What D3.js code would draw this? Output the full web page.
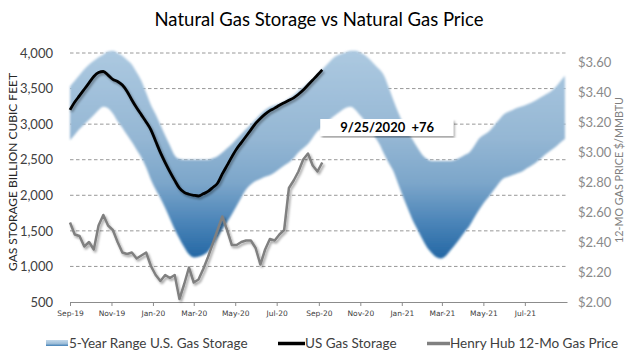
<!DOCTYPE html>
<html><head><meta charset="utf-8">
<script src="https://cdn.jsdelivr.net/npm/d3@7"></script>
<style>
html,body{margin:0;padding:0;background:#fff;}
svg{display:block;}
</style></head>
<body>
<svg id="chart" width="636" height="357"></svg>
<script>
// ---------- DATA ----------
const startWeek = new Date(2019, 8, 20); // first weekly observation
const tickLabels = ["Sep-19","Nov-19","Jan-20","Mar-20","May-20","Jul-20","Sep-20","Nov-20","Jan-21","Mar-21","May-21","Jul-21"];
const storageTicks = [500,1000,1500,2000,2500,3000,3500,4000];
const priceTicks = [2.0,2.2,2.4,2.6,2.8,3.0,3.2,3.4,3.6];

// 5-year range (Bcf), weekly
const rangeUpper = [3530,3610,3690,3770,3840,3890,3940,3980,4020,4030,4000,3960,3900,3840,3730,3610,3440,3270,3140,2990,2840,2700,2560,2510,2500,2500,2500,2500,2500,2500,2520,2550,2600,2660,2720,2790,2860,2930,3000,3070,3140,3200,3240,3265,3290,3320,3360,3410,3470,3520,3580,3630,3700,3770,3840,3910,3960,3990,4010,4030,4030,4005,3970,3910,3840,3770,3680,3510,3330,3160,3010,2890,2780,2670,2570,2510,2483,2483,2483,2483,2483,2500,2530,2570,2610,2700,2800,2850,2895,2970,3050,3129,3170,3200,3230,3250,3275,3305,3340,3380,3420,3460,3520,3600,3680];
const rangeLower = [2775,2850,2930,3000,3060,3130,3200,3246,3225,3150,3040,2950,2846,2750,2640,2530,2390,2220,2080,1960,1820,1670,1520,1390,1270,1170,1127,1135,1160,1210,1300,1410,1520,1620,1730,1850,1970,2080,2150,2200,2230,2260,2282,2320,2370,2420,2460,2520,2600,2660,2720,2810,2900,2950,3020,3090,3140,3190,3230,3246,3200,3120,3040,2950,2830,2720,2580,2450,2330,2150,1975,1810,1650,1520,1390,1270,1190,1130,1113,1150,1230,1310,1400,1490,1575,1690,1800,1900,1980,2070,2160,2234,2260,2285,2310,2335,2380,2420,2465,2520,2580,2630,2680,2740,2790];
// US gas storage (Bcf), weekly to 9/25/2020
const usStorage = [3200,3310,3400,3490,3580,3670,3725,3740,3690,3630,3600,3550,3460,3340,3230,3130,3030,2920,2760,2600,2460,2330,2210,2100,2040,2015,2000,1990,2020,2055,2110,2170,2300,2420,2540,2650,2740,2830,2920,3010,3080,3140,3190,3225,3265,3300,3335,3370,3420,3480,3550,3620,3690,3764];
// Henry Hub 12-month strip ($/MMBtu), weekly
const hhPrice = [2.53,2.45,2.44,2.37,2.40,2.35,2.51,2.58,2.51,2.48,2.40,2.33,2.32,2.33,2.29,2.31,2.33,2.24,2.18,2.14,2.18,2.16,2.18,2.02,2.12,2.23,2.13,2.15,2.22,2.30,2.39,2.48,2.57,2.48,2.38,2.38,2.40,2.41,2.41,2.36,2.25,2.35,2.42,2.41,2.45,2.48,2.76,2.81,2.87,2.95,2.99,2.91,2.87,2.93];

const annotationText = "9/25/2020  +76";
const annotationIndex = 53;

// ---------- CHART ----------
const svg = d3.select("#chart");
const plotL = 70, plotR = 567, plotT = 53, plotB = 302;

const weekDate = i => d3.timeDay.offset(startWeek, 7 * i);
const x = d3.scaleTime().domain([startWeek, d3.timeMonth.offset(startWeek, 24)]).range([plotL, plotR]);
const yS = d3.scaleLinear().domain([500, 4000]).range([plotB, plotT]);
const yP = d3.scaleLinear().domain([2.0, 3.6]).range([plotB, 62]);

const defs = svg.append("defs");
const grad = defs.append("linearGradient").attr("id","bandGrad")
  .attr("gradientUnits","userSpaceOnUse").attr("x1",0).attr("x2",0).attr("y1",55).attr("y2",262);
[[0,"#abc8e0"],[0.4,"#95b7d4"],[0.62,"#7ca6ca"],[0.8,"#4d86b9"],[1,"#1f64a2"]].forEach(s=>
  grad.append("stop").attr("offset",s[0]).attr("stop-color",s[1]));
const lgrad = defs.append("linearGradient").attr("id","legGrad").attr("x1",0).attr("x2",0).attr("y1",0).attr("y2",1);
[[0,"#c3d8ea"],[0.6,"#9dbdd8"],[1,"#3f7fb6"]].forEach(s=>lgrad.append("stop").attr("offset",s[0]).attr("stop-color",s[1]));
defs.append("filter").attr("id","soft").attr("x","-5%").attr("y","-5%").attr("width","110%").attr("height","110%")
  .append("feGaussianBlur").attr("stdDeviation",1.3);
const sh = defs.append("filter").attr("id","shadow").attr("x","-5%").attr("y","-5%").attr("width","115%").attr("height","115%");
sh.append("feDropShadow").attr("dx",1.5).attr("dy",2).attr("stdDeviation",1.2).attr("flood-color","#000").attr("flood-opacity",0.35);

// title
svg.append("text").attr("x",319).attr("y",26).attr("text-anchor","middle")
  .attr("font-family","Lato, 'Open Sans', sans-serif").attr("font-size",18.5).attr("fill","#000")
  .text("Natural Gas Storage vs Natural Gas Price");

// gridlines
svg.append("g").selectAll("line").data(storageTicks.filter(d=>d>500)).join("line")
  .attr("x1",plotL).attr("x2",plotR).attr("y1",d=>yS(d)).attr("y2",d=>yS(d))
  .attr("stroke","#8c8c8c").attr("stroke-width",0.9).attr("stroke-dasharray","3.5,2.5");

// band
const area = d3.area().x((d,i)=>x(weekDate(i))).y0((d,i)=>yS(rangeLower[i])).y1(d=>yS(d)).curve(d3.curveMonotoneX);
svg.append("path").datum(rangeUpper).attr("d",area).attr("fill","url(#bandGrad)").attr("filter","url(#soft)");

// x axis
const tickDates = tickLabels.map((t,i)=>d3.timeMonth.offset(startWeek, 2*i));
const xAxis = d3.axisBottom(x).tickValues(tickDates).tickFormat((d,i)=>tickLabels[i]).tickSize(4).tickSizeOuter(0);
const gx = svg.append("g").attr("transform",`translate(0,${plotB})`).call(xAxis);
gx.select(".domain").attr("stroke","#8c8c8c").attr("stroke-width",1);
gx.selectAll(".tick line").attr("stroke","#8c8c8c");
gx.selectAll(".tick text").attr("font-family","'DejaVu Sans', Verdana, sans-serif").attr("font-size",7.5).attr("fill","#404040").attr("dy","0.9em");

// left axis
const yAxisL = d3.axisLeft(yS).tickValues(storageTicks).tickFormat(d3.format(",")).tickSize(0);
const gl = svg.append("g").attr("transform",`translate(${plotL-14},0)`).call(yAxisL);
gl.select(".domain").remove();
gl.selectAll(".tick text").attr("font-family","Lato, 'Open Sans', sans-serif").attr("font-size",13).attr("fill","#404040");

// right axis
const yAxisR = d3.axisRight(yP).tickValues(priceTicks).tickFormat(d=>"$"+d.toFixed(2)).tickSize(0);
const gr = svg.append("g").attr("transform",`translate(575,0)`).call(yAxisR);
gr.select(".domain").remove();
gr.selectAll(".tick text").attr("font-family","Lato, 'Open Sans', sans-serif").attr("font-size",13).attr("fill","#8a8a8a");

// axis titles
svg.append("text").attr("transform","translate(17,172) rotate(-90)").attr("text-anchor","middle")
  .attr("font-family","Lato, 'Open Sans', sans-serif").attr("font-size",12).attr("fill","#262626")
  .attr("textLength",198).attr("lengthAdjust","spacingAndGlyphs")
  .text("GAS STORAGE BILLION CUBIC FEET");
svg.append("text").attr("transform","translate(623,170) rotate(-90)").attr("text-anchor","middle")
  .attr("font-family","Lato, 'Open Sans', sans-serif").attr("font-size",11).attr("fill","#7f7f7f")
  .attr("textLength",146).attr("lengthAdjust","spacingAndGlyphs")
  .text("12-MO GAS PRICE $/MMBTU");

// price line
const lineP = d3.line().x((d,i)=>x(weekDate(i))).y(d=>yP(d));
svg.append("path").datum(hhPrice).attr("d",lineP).attr("fill","none").attr("stroke","#808080")
  .attr("stroke-width",2.5).attr("stroke-linejoin","round").attr("filter","url(#shadow)");

// storage line
const lineS = d3.line().x((d,i)=>x(weekDate(i))).y(d=>yS(d)).curve(d3.curveMonotoneX);
svg.append("path").datum(usStorage).attr("d",lineS).attr("fill","none").attr("stroke","#000")
  .attr("stroke-width",2.8).attr("stroke-linejoin","round").attr("filter","url(#shadow)");

// annotation
const ax = x(weekDate(annotationIndex));
const ag = svg.append("g");
ag.append("rect").attr("x",ax-2).attr("y",119).attr("width",133).attr("height",17).attr("fill","#fff").attr("filter","url(#shadow)");
ag.append("text").attr("x",ax+65).attr("y",132).attr("text-anchor","middle")
  .attr("font-family","Lato, 'Open Sans', sans-serif").attr("font-weight","bold").attr("font-size",13).attr("fill","#000")
  .text(annotationText.replace(/ /g, "\u00a0"));

// legend
const lg = svg.append("g").attr("font-family","Lato, 'Open Sans', sans-serif").attr("font-size",13.5).attr("fill","#404040");
lg.append("rect").attr("x",46).attr("y",340).attr("width",22).attr("height",6).attr("fill","url(#legGrad)");
lg.append("text").attr("x",69).attr("y",348).text("5-Year Range U.S. Gas Storage");
lg.append("line").attr("x1",278).attr("x2",305).attr("y1",343.5).attr("y2",343.5).attr("stroke","#000").attr("stroke-width",3.5);
lg.append("text").attr("x",305).attr("y",348).text("US Gas Storage");
lg.append("line").attr("x1",427).attr("x2",450).attr("y1",343.5).attr("y2",343.5).attr("stroke","#808080").attr("stroke-width",3.5);
lg.append("text").attr("x",450).attr("y",348).text("Henry Hub 12-Mo Gas Price");
</script>
</body></html>
